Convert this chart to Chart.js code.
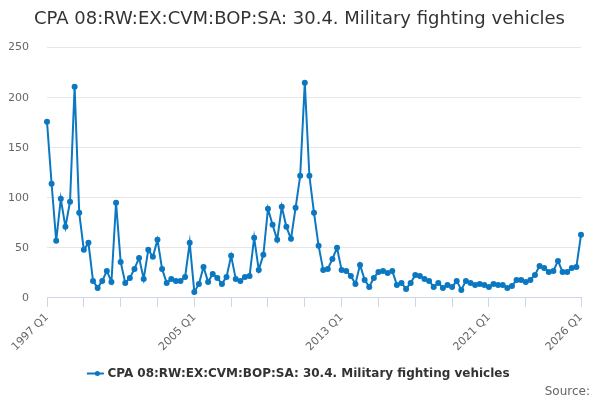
<!DOCTYPE html>
<html>
<head>
<meta charset="utf-8">
<script src="https://cdn.jsdelivr.net/npm/chart.js"></script>
<style>
  html, body { margin: 0; padding: 0; background: #fff; }
  #wrap { width: 600px; height: 400px; }
</style>
</head>
<body>
<div id="wrap"><canvas id="chart"></canvas></div>
<script>
// quarters 1997 Q1 .. 2026 Q1
const startYear = 1997;
const endYear = 2026;
const seriesName = 'CPA 08:RW:EX:CVM:BOP:SA: 30.4. Military fighting vehicles';

const values = [
    176, 114, 57, 99, 71, 96, 211, 85, 48, 55,
    17, 10, 17, 27, 16, 95, 36, 15, 20, 29,
    40, 19, 48, 41, 58, 29, 15, 19, 17, 17,
    21, 55, 6, 14, 31, 16, 24, 20, 14, 21,
    42, 19, 17, 21, 22, 60, 28, 43, 89, 73,
    58, 91, 71, 59, 90, 122, 215, 122, 85, 52,
    28, 29, 39, 50, 28, 27, 22, 14, 33, 18,
    11, 20, 26, 27, 25, 27, 13, 15, 9, 15,
    23, 22, 19, 17, 11, 15, 10, 13, 11, 17,
    8, 17, 15, 13, 14, 13, 11, 14, 13, 13,
    10, 12, 18, 18, 16, 18, 23, 32, 30, 26,
    27, 37, 26, 26, 30, 31, 63
];

const quarters = [];
for (let y = startYear; y <= endYear; y++) {
    for (let q = 1; q <= 4; q++) {
        if (y === endYear && q > 1) break;
        quarters.push(y + ' Q' + q);
    }
}

// tick labels shown on the x axis
const labelledTicks = ['1997 Q1', '2005 Q1', '2013 Q1', '2021 Q1', '2026 Q1'];

const lineColor = '#0b78c1';
const font = 'DejaVu Sans';

// draws the little dot on top of the legend line
const legendDot = {
    id: 'legendDot',
    afterDraw(chart) {
        const lg = chart.legend;
        if (!lg || !lg.legendHitBoxes) return;
        const ctx = chart.ctx;
        lg.legendHitBoxes.forEach(box => {
            const cx = box.left + 8;
            const cy = box.top + box.height / 2;
            ctx.save();
            ctx.fillStyle = lineColor;
            ctx.beginPath();
            ctx.arc(cx, cy, 2.5, 0, Math.PI * 2);
            ctx.fill();
            ctx.restore();
        });
    }
};

new Chart(document.getElementById('chart').getContext('2d'), {
    type: 'line',
    data: {
        labels: quarters,
        datasets: [{
            label: seriesName,
            data: values,
            borderColor: lineColor,
            backgroundColor: lineColor,
            borderWidth: 2,
            pointRadius: 2,
            pointHoverRadius: 3,
            tension: 0
        }]
    },
    options: {
        responsive: true,
        maintainAspectRatio: false,
        animation: false,
        layout: { padding: { left: 9, right: 10, top: 0, bottom: 1 } },
        scales: {
            x: {
                type: 'category',
                offset: false,
                border: { display: true, color: '#ccd6eb', width: 1 },
                grid: {
                    drawOnChartArea: false,
                    drawTicks: true,
                    tickLength: 9,
                    color: '#ccd6eb'
                },
                ticks: {
                    autoSkip: false,
                    minRotation: 45,
                    maxRotation: 45,
                    color: '#666666',
                    font: { family: font, size: 11 },
                    padding: 4,
                    callback: function (val, idx) {
                        const lab = this.getLabelForValue(val);
                        if (labelledTicks.includes(lab)) return lab;
                        if (idx % 8 === 0 && idx <= 104) return '';
                        return null;
                    }
                },
                afterFit(scale) {
                    // let the rotated first label hang over the left margin
                    scale.paddingLeft = 0;
                    scale.paddingRight = 19;
                    scale.height += 10;
                }
            },
            y: {
                min: 0,
                max: 250,
                border: { display: false },
                grid: { color: '#e6e6e6', drawTicks: false },
                ticks: {
                    stepSize: 50,
                    color: '#666666',
                    font: { family: font, size: 11 },
                    padding: 18
                },
                afterFit(scale) {
                    scale.width = 38;
                }
            }
        },
        plugins: {
            title: {
                display: true,
                text: seriesName,
                color: '#333333',
                font: { family: font, size: 18, weight: 'normal' },
                padding: { top: 9, bottom: 17 }
            },
            subtitle: {
                display: true,
                text: 'Source:',
                position: 'bottom',
                align: 'end',
                color: '#666666',
                font: { family: font, size: 12, weight: 'normal' },
                padding: { top: -5, bottom: 0 }
            },
            legend: {
                position: 'bottom',
                labels: {
                    usePointStyle: true,
                    pointStyle: 'line',
                    boxWidth: 16,
                    color: '#333333',
                    font: { family: font, size: 12, weight: 'bold' },
                    padding: 0
                }
            },
            tooltip: { enabled: false }
        }
    },
    plugins: [legendDot]
});
</script>
</body>
</html>
